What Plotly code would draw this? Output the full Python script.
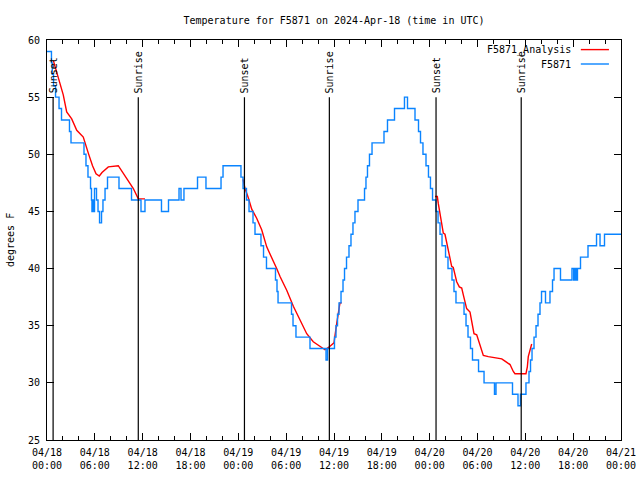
import pandas as pd
import plotly.graph_objects as go

BASE = "2024-04-18 00:00"

# F5871 observations: change points (hours since 04/18 00:00, deg F), drawn as steps
obs_hours = [0.00, 0.56, 0.66, 0.82, 1.07, 1.51, 1.82, 2.82, 3.01, 4.64, 4.89, 5.14, 5.46,
             5.58, 5.64, 5.71, 5.80, 5.96, 6.21, 6.40, 6.59, 6.84, 7.02, 7.28, 7.59, 9.03,
             10.60, 11.79, 12.29, 14.36, 15.24, 16.56, 16.81, 17.18, 18.88, 19.94, 21.83,
             22.08, 24.33, 24.59, 25.02, 25.34, 25.84, 26.09, 26.84, 27.16, 27.53, 28.66,
             28.85, 28.98, 30.67, 30.86, 31.23, 32.99, 35.00, 35.19, 36.06, 36.25, 36.44,
             36.63, 36.88, 37.13, 37.32, 37.57, 37.88, 38.13, 38.38, 38.63, 39.01, 39.83,
             40.01, 40.20, 40.45, 40.77, 42.27, 42.71, 43.59, 44.84, 45.22, 46.16, 46.60,
             46.85, 47.16, 47.54, 47.85, 48.10, 48.36, 48.79, 49.05, 49.30, 49.55, 49.99,
             50.30, 50.80, 51.05, 51.30, 52.31, 52.56, 52.81, 53.12, 53.37, 54.13, 54.82,
             56.13, 56.32, 58.39, 59.08, 59.39, 60.08, 60.46, 60.65, 60.84, 61.09, 61.34,
             61.59, 61.84, 62.03, 62.53, 63.09, 63.41, 63.60, 64.41, 65.85, 66.06, 66.23,
             66.40, 66.54, 66.92, 67.86, 68.93, 69.37, 69.93, 72.00]
obs_temps = [59, 58, 57, 56, 55, 54, 53, 52, 51, 50, 49, 48, 47,
             46, 45, 46, 45, 47, 46, 45, 44, 45, 46, 47, 48, 47,
             46, 45, 46, 45, 46, 47, 46, 47, 48, 47, 48,
             49, 48, 47, 46, 45, 44, 43, 42, 41, 40, 39,
             38, 37, 36, 35, 34, 33, 32, 33, 34, 35, 36,
             37, 38, 39, 40, 41, 42, 43, 44, 45, 46, 47,
             48, 49, 50, 51, 52, 53, 54, 55, 54, 53, 52,
             51, 50, 49, 48, 47, 46, 45, 44, 43, 42, 41,
             40, 39, 38, 37, 36, 35, 34, 33, 32, 31, 30,
             29, 30, 29, 28, 29, 30, 31, 32, 33, 34, 35,
             36, 37, 38, 37, 38, 39, 40, 39, 40, 39, 40,
             39, 40, 41, 42, 43, 42, 43, 43]

# F5871_Analysis: three night-time segments
ana1_hours = [0.80, 1.22, 1.63, 2.04, 2.47, 3.10, 3.73, 4.55, 5.18, 5.71, 6.15, 6.56, 6.90,
              7.69, 8.94, 9.57, 10.20, 10.83, 11.45, 12.29]
ana1_temps = [58.2, 57.1, 56.1, 55.2, 53.7, 53.1, 52.1, 51.5, 50.1, 49.0, 48.3, 48.1, 48.4,
              48.9, 49.0, 48.3, 47.6, 47.0, 46.1, 46.1]
ana2_hours = [24.59, 24.84, 25.25, 25.68, 26.30, 26.93, 27.56, 28.19, 28.81, 29.23, 30.07,
              30.90, 31.74, 32.58, 33.40, 34.24, 34.87, 35.50, 36.00, 36.34, 36.75, 36.97]
ana2_temps = [47.8, 47.0, 46.2, 45.2, 44.4, 43.4, 41.9, 41.0, 40.0, 39.3, 38.1,
              36.7, 35.5, 34.3, 33.6, 33.2, 32.9, 33.2, 33.5, 35.2, 37.0, 37.0]
ana3_hours = [48.67, 48.96, 49.08, 49.30, 49.51, 49.71, 49.92, 50.14, 50.46, 50.76, 50.96,
              51.18, 51.39, 51.72, 52.02, 52.22, 52.64, 53.06, 53.27, 53.56, 53.90, 54.31,
              54.73, 55.36, 56.41, 57.04, 57.45, 57.86, 58.08, 58.49, 58.70, 60.08, 60.25,
              60.37, 60.59, 60.80]
ana3_temps = [46.3, 46.3, 45.7, 44.8, 44.0, 43.1, 43.0, 42.2, 41.0, 40.2, 40.1,
              39.4, 38.85, 38.4, 38.3, 37.7, 36.5, 36.2, 35.5, 34.3, 34.2, 33.3,
              32.4, 32.3, 32.15, 32.1, 31.9, 31.7, 31.6, 31.0, 30.8, 30.8, 31.4,
              32.3, 33.0, 33.4]

sun_times = ["2024-04-18 00:46", "2024-04-18 11:27", "2024-04-19 00:46",
             "2024-04-19 11:25", "2024-04-20 00:48", "2024-04-20 11:29"]
sun_labels = ["Sunset", "Sunrise", "Sunset", "Sunrise", "Sunset", "Sunrise"]

FONT = "DejaVu Sans Mono"
RED = "#ff0000"
BLUE = "#0a84ff"

base = pd.Timestamp(BASE)


def to_time(hours):
    return [base + pd.Timedelta(hours=h) for h in hours]


ana_x, ana_y = [], []
for hs, ts in [(ana1_hours, ana1_temps), (ana2_hours, ana2_temps), (ana3_hours, ana3_temps)]:
    ana_x += to_time(hs) + [None]
    ana_y += ts + [None]

fig = go.Figure()
fig.add_trace(go.Scatter(x=ana_x, y=ana_y, mode="lines", name="F5871_Analysis",
                         line=dict(color=RED, width=1.4), connectgaps=False))
fig.add_trace(go.Scatter(x=to_time(obs_hours), y=obs_temps, mode="lines", name="F5871",
                         line=dict(color=BLUE, width=1.4, shape="hv")))

# Sunrise / sunset markers
for t, lab in zip(sun_times, sun_labels):
    fig.add_shape(type="line", xref="x", yref="y", x0=t, x1=t, y0=25, y1=55,
                  line=dict(color="black", width=1.2))
    fig.add_annotation(x=t, y=55, xref="x", yref="y", text=lab, showarrow=False,
                       textangle=-90, xanchor="center", yanchor="bottom", yshift=2,
                       font=dict(family=FONT, size=10, color="black"))

# Legend (gnuplot style: text then line sample)
leg = [("F5871_Analysis", RED, 0.976), ("F5871", BLUE, 0.940)]
for txt, col, yy in leg:
    fig.add_annotation(x=0.9164, y=yy, xref="paper", yref="paper", text=txt,
                       showarrow=False, xanchor="right", yanchor="middle",
                       font=dict(family=FONT, size=10, color="black"))
    fig.add_shape(type="line", xref="paper", yref="paper", x0=0.930, x1=0.979,
                  y0=yy, y1=yy, line=dict(color=col, width=1.4))

# Y axis title
fig.add_annotation(x=0, y=0.5, xref="paper", yref="paper", text="degrees F",
                   showarrow=False, textangle=-90, xanchor="center", yanchor="middle",
                   xshift=-37, font=dict(family=FONT, size=10, color="black"))

fig.update_layout(
    width=640, height=480,
    margin=dict(l=47, r=19, t=40, b=40, autoexpand=False),
    paper_bgcolor="white", plot_bgcolor="white",
    showlegend=False,
    font=dict(family=FONT, size=10, color="black"),
    title=dict(text="Temperature for F5871 on 2024-Apr-18 (time in UTC)",
               x=0.5, xref="paper", xanchor="center",
               y=1 - 20 / 480, yref="container", yanchor="middle",
               font=dict(family=FONT, size=10, color="black"),
               automargin=False),
)
fig.update_xaxes(
    type="date", range=["2024-04-18 00:00", "2024-04-21 00:00"],
    tick0="2024-04-18 00:00", dtick=6 * 3600 * 1000, tickformat="%m/%d<br>%H:%M",
    ticks="inside", ticklen=7, tickcolor="black", tickwidth=1, ticklabelstandoff=3,
    minor=dict(dtick=2 * 3600 * 1000, ticks="inside", ticklen=4, tickcolor="black"),
    showline=True, linecolor="black", linewidth=1, mirror="allticks",
    showgrid=False, zeroline=False, automargin=False,
    tickfont=dict(family=FONT, size=10, color="black"),
)
fig.update_yaxes(
    range=[25, 60], dtick=5, tick0=25,
    ticks="inside", ticklen=7, tickcolor="black", tickwidth=1, ticklabelstandoff=4,
    showline=True, linecolor="black", linewidth=1, mirror="allticks",
    showgrid=False, zeroline=False, automargin=False,
    tickfont=dict(family=FONT, size=10, color="black"),
)

# remove the default page margin so the 640x480 figure fills the window exactly
fig.write_html("out.html",
               config={"displayModeBar": False},
               post_script="document.body.style.margin='0';"
                           "document.body.style.overflow='hidden';")
